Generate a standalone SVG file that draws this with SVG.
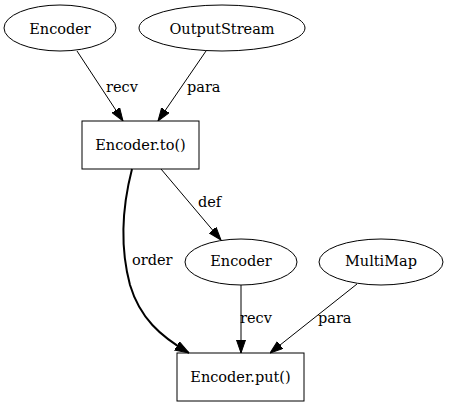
<svg xmlns="http://www.w3.org/2000/svg" width="449" height="407" viewBox="0 0 449 407">
<style>
text{font-family:"DejaVu Serif",serif;font-size:14.5px;fill:#000}
.n{fill:none;stroke:#000;stroke-width:1}
.e{fill:none;stroke:#000;stroke-width:1}
.b{fill:none;stroke:#000;stroke-width:2}
</style>
<defs>
<marker id="a" viewBox="0 0 13 10" refX="13" refY="5" markerWidth="13" markerHeight="10" markerUnits="userSpaceOnUse" orient="auto"><path d="M0,0.5 L13,5 L0,9.5 z" fill="#000" stroke="#000" stroke-width="1"/></marker>
<marker id="ab" viewBox="0 0 13 10" refX="13" refY="5" markerWidth="14" markerHeight="11" markerUnits="userSpaceOnUse" orient="auto"><path d="M0,0.5 L13,5 L0,9.5 z" fill="#000" stroke="#000" stroke-width="1"/></marker>
</defs>
<rect width="449" height="407" fill="#fff"/>
<g id="edges">
<path class="e" d="M77,51 L123,121" marker-end="url(#a)"/>
<text x="106" y="92">recv</text>
<path class="e" d="M206,51 L158,121" marker-end="url(#a)"/>
<text x="187" y="92">para</text>
<path class="e" d="M161,169 L221,240" marker-end="url(#a)"/>
<text x="198" y="207">def</text>
<path class="b" d="M132,169 C124,200 118,240 130,285 C140,318 160,336 189,353" marker-end="url(#ab)"/>
<text x="132" y="265">order</text>
<path class="e" d="M241,285 L241,353" marker-end="url(#a)"/>
<text x="240" y="323">recv</text>
<path class="e" d="M357,284 L270,353" marker-end="url(#a)"/>
<text x="318" y="323">para</text>
</g>
<g id="n1"><ellipse class="n" cx="60" cy="28" rx="56" ry="23"/><text x="60" y="34" text-anchor="middle">Encoder</text></g>
<g id="n2"><ellipse class="n" cx="222" cy="28" rx="83" ry="23"/><text x="222" y="34" text-anchor="middle">OutputStream</text></g>
<g id="n3"><rect class="n" x="82" y="121" width="117" height="48"/><text x="140.5" y="150" text-anchor="middle">Encoder.to()</text></g>
<g id="n4"><ellipse class="n" cx="241" cy="262" rx="56" ry="23"/><text x="241" y="266" text-anchor="middle">Encoder</text></g>
<g id="n5"><ellipse class="n" cx="381" cy="262" rx="62" ry="23"/><text x="381" y="266" text-anchor="middle">MultiMap</text></g>
<g id="n6"><rect class="n" x="177" y="353" width="127" height="48"/><text x="240.5" y="382" text-anchor="middle">Encoder.put()</text></g>
</svg>
